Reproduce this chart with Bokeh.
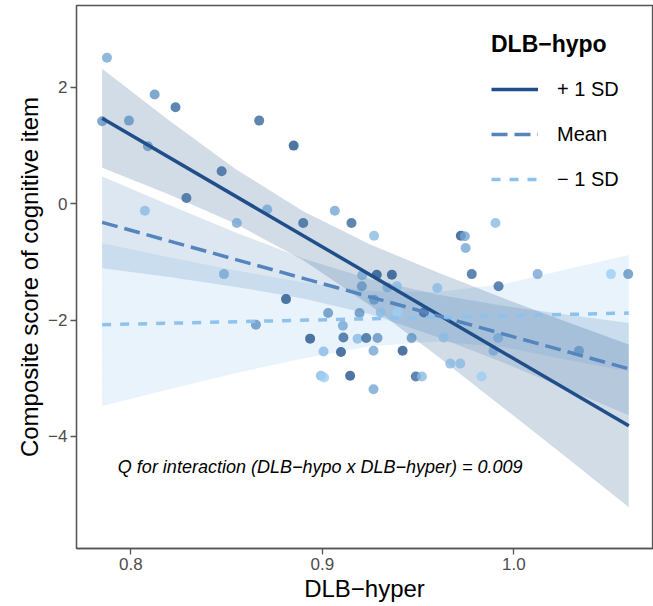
from bokeh.plotting import figure
from bokeh.models import (Range1d, FixedTicker, Legend, LegendItem, ColumnDataSource,
                          LinearColorMapper)
from bokeh.transform import transform
from bokeh.core.properties import value
from bokeh.embed import file_html
from bokeh.resources import INLINE

# ---------------- data ----------------
# scatter: DLB-hyper (x), composite cognitive score (y), DLB-hypo level (colour, 0..1)
hyper = [0.7875, 0.785, 0.799, 0.8124, 0.8233, 0.8089, 0.8474, 0.867, 0.885, 0.829,
         0.8073, 0.8553, 0.8712, 0.890, 0.8486, 0.881, 0.9065, 0.9152, 0.927, 0.9723,
         0.9744, 0.9748, 0.9904, 0.978, 1.0124, 1.0507, 1.0597, 0.992, 0.9208, 0.9284,
         0.9363, 0.9206, 0.934, 0.9389, 0.960, 0.927, 0.903, 0.9194, 0.9305, 0.9393,
         0.953, 0.8653, 0.9107, 0.8936, 0.911, 0.9184, 0.9229, 0.9288, 0.9466, 0.9006,
         0.9097, 0.9267, 0.9419, 0.8992, 0.9009, 0.9145, 0.9488, 0.952, 0.9267, 0.9633,
         0.9918, 0.9894, 1.034, 0.9668, 0.972, 0.9831]
score = [2.51, 1.42, 1.43, 1.88, 1.66, 0.99, 0.56, 1.43, 1.00, 0.10,
         -0.12, -0.33, -0.10, -0.33, -1.21, -1.64, -0.12, -0.33, -0.55, -0.55,
         -0.56, -0.76, -0.33, -1.21, -1.21, -1.21, -1.21, -1.42, -1.23, -1.22,
         -1.22, -1.42, -1.44, -1.42, -1.45, -1.65, -1.88, -1.88, -1.87, -1.87,
         -1.87, -2.08, -2.10, -2.32, -2.30, -2.32, -2.31, -2.31, -2.31, -2.54,
         -2.55, -2.53, -2.53, -2.96, -2.99, -2.96, -2.97, -2.97, -3.19, -2.30,
         -2.31, -2.53, -2.53, -2.75, -2.75, -2.97]
hypo = [0.40, 0.55, 0.55, 0.55, 0.72, 0.55, 0.72, 0.72, 0.90, 0.72,
        0.25, 0.40, 0.40, 0.72, 0.40, 0.90, 0.40, 0.72, 0.25, 0.90,
        0.40, 0.40, 0.25, 0.72, 0.40, 0.10, 0.55, 0.72, 0.40, 0.90,
        0.90, 0.55, 0.40, 0.25, 0.25, 0.55, 0.55, 0.55, 0.25, 0.10,
        0.72, 0.55, 0.40, 0.90, 0.72, 0.25, 0.72, 0.55, 0.55, 0.25,
        0.90, 0.40, 0.90, 0.25, 0.10, 0.90, 0.72, 0.25, 0.40, 0.25,
        0.40, 0.40, 0.55, 0.25, 0.25, 0.10]

# fitted simple slopes at DLB-hypo = +1 SD, mean, -1 SD
fit_x = [0.785, 1.06]
fit_plus = [1.47, -3.82]
fit_mean = [-0.32, -2.84]
fit_minus = [-2.08, -1.88]

# confidence bands
band_x = [0.785, 0.82, 0.855, 0.89, 0.925, 0.96, 0.995, 1.03, 1.06]
plus_up = [2.32, 1.43, 0.59, -0.13, -0.70, -1.18, -1.63, -2.06, -2.42]
plus_lo = [0.62, 0.16, -0.35, -0.97, -1.75, -2.62, -3.52, -4.43, -5.22]
mean_up = [0.47, -0.02, -0.50, -0.94, -1.30, -1.56, -1.76, -1.92, -2.05]
mean_lo = [-1.11, -1.26, -1.43, -1.63, -1.90, -2.29, -2.74, -3.22, -3.64]
minus_up = [-0.68, -0.92, -1.15, -1.35, -1.50, -1.52, -1.38, -1.11, -0.88]
minus_lo = [-3.48, -3.19, -2.91, -2.66, -2.45, -2.37, -2.47, -2.70, -2.88]

series_labels = ["+ 1 SD", "Mean", "\u2212 1 SD"]
x_ticks = [0.8, 0.9, 1.0]
x_tick_labels = ["0.8", "0.9", "1.0"]
y_ticks = [-4, -2, 0, 2]
y_tick_labels = ["\u22124", "\u22122", "0", "2"]
annotation = "Q for interaction (DLB\u2212hypo x DLB\u2212hyper) = 0.009"

# ---------------- styles ----------------
FONT = "Liberation Sans"
C_PLUS = "#1f4e89"
C_MEAN = "#5585bd"
C_MINUS = "#8ec2ee"
point_palette = ["#9ccef6", "#88bae4", "#74a5d3", "#6091c1", "#4b7daf", "#37689e", "#23548c"]
BORDER = "#555555"

p = figure(frame_width=576, frame_height=543,
           x_range=Range1d(0.7716, 1.0724), y_range=Range1d(-5.93, 3.41),
           output_backend="svg", toolbar_location=None,
           min_border_left=76, min_border_right=1, min_border_top=5, min_border_bottom=58,
           background_fill_color="white", border_fill_color="white")
p.grid.visible = False
p.outline_line_color = BORDER
p.outline_line_width = 1.3

# bands
p.varea(x=band_x, y1=minus_lo, y2=minus_up, fill_color=C_MINUS, fill_alpha=0.2)
p.varea(x=band_x, y1=mean_lo, y2=mean_up, fill_color=C_MEAN, fill_alpha=0.2)
p.varea(x=band_x, y1=plus_lo, y2=plus_up, fill_color=C_PLUS, fill_alpha=0.2)

# points
src = ColumnDataSource(dict(x=hyper, y=score, z=hypo))
mapper = LinearColorMapper(palette=point_palette, low=0.0, high=1.0)
p.scatter("x", "y", source=src, size=10, fill_color=transform("z", mapper),
          line_color=None, fill_alpha=0.8)

# lines
r_plus = p.line(fit_x, fit_plus, line_color=C_PLUS, line_width=3.5)
r_mean = p.line(fit_x, fit_mean, line_color=C_MEAN, line_width=3.5, line_dash="16 7")
r_minus = p.line(fit_x, fit_minus, line_color=C_MINUS, line_width=3.5, line_dash="9 9")

# annotation
p.text(x=[0.7932], y=[-4.53], text=[annotation], text_font=value(FONT),
       text_font_size="18px", text_font_style="italic", text_color="black",
       text_align="left", text_baseline="middle")

# axes
for ax in (p.xaxis[0], p.yaxis[0]):
    ax.axis_line_color = BORDER
    ax.axis_line_width = 1.3
    ax.major_tick_line_color = BORDER
    ax.major_tick_line_width = 1.3
    ax.major_tick_out = 6
    ax.major_tick_in = 0
    ax.minor_tick_line_color = None
    ax.major_label_text_font = FONT
    ax.major_label_text_font_size = "17px"
    ax.major_label_text_color = "#4d4d4d"
    ax.axis_label_text_font = FONT
    ax.axis_label_text_font_size = "24px"
    ax.axis_label_text_font_style = "normal"
    ax.axis_label_text_color = "black"
    ax.major_label_standoff = 3
    ax.axis_label_standoff = 2

p.xaxis.ticker = FixedTicker(ticks=x_ticks)
p.xaxis.major_label_overrides = dict(zip(x_ticks, x_tick_labels))
p.yaxis.ticker = FixedTicker(ticks=y_ticks)
p.yaxis.major_label_overrides = dict(zip(y_ticks, y_tick_labels))
p.xaxis.axis_label = "DLB\u2212hyper"
p.yaxis.axis_label = "Composite score of cognitive item"

legend = Legend(items=[LegendItem(label=series_labels[0], renderers=[r_plus]),
                       LegendItem(label=series_labels[1], renderers=[r_mean]),
                       LegendItem(label=series_labels[2], renderers=[r_minus])],
                location=(415, 349), title="DLB\u2212hypo",
                title_text_font=FONT, title_text_font_size="23px",
                title_text_font_style="bold", title_text_color="black",
                label_text_font=FONT, label_text_font_size="20px", label_text_color="black",
                glyph_width=47, glyph_height=40, label_height=40, label_standoff=19,
                spacing=5, padding=0, margin=0, title_standoff=11,
                border_line_color=None, background_fill_alpha=0)
p.add_layout(legend, "center")

open("out.html", "w").write(file_html(p, INLINE))
